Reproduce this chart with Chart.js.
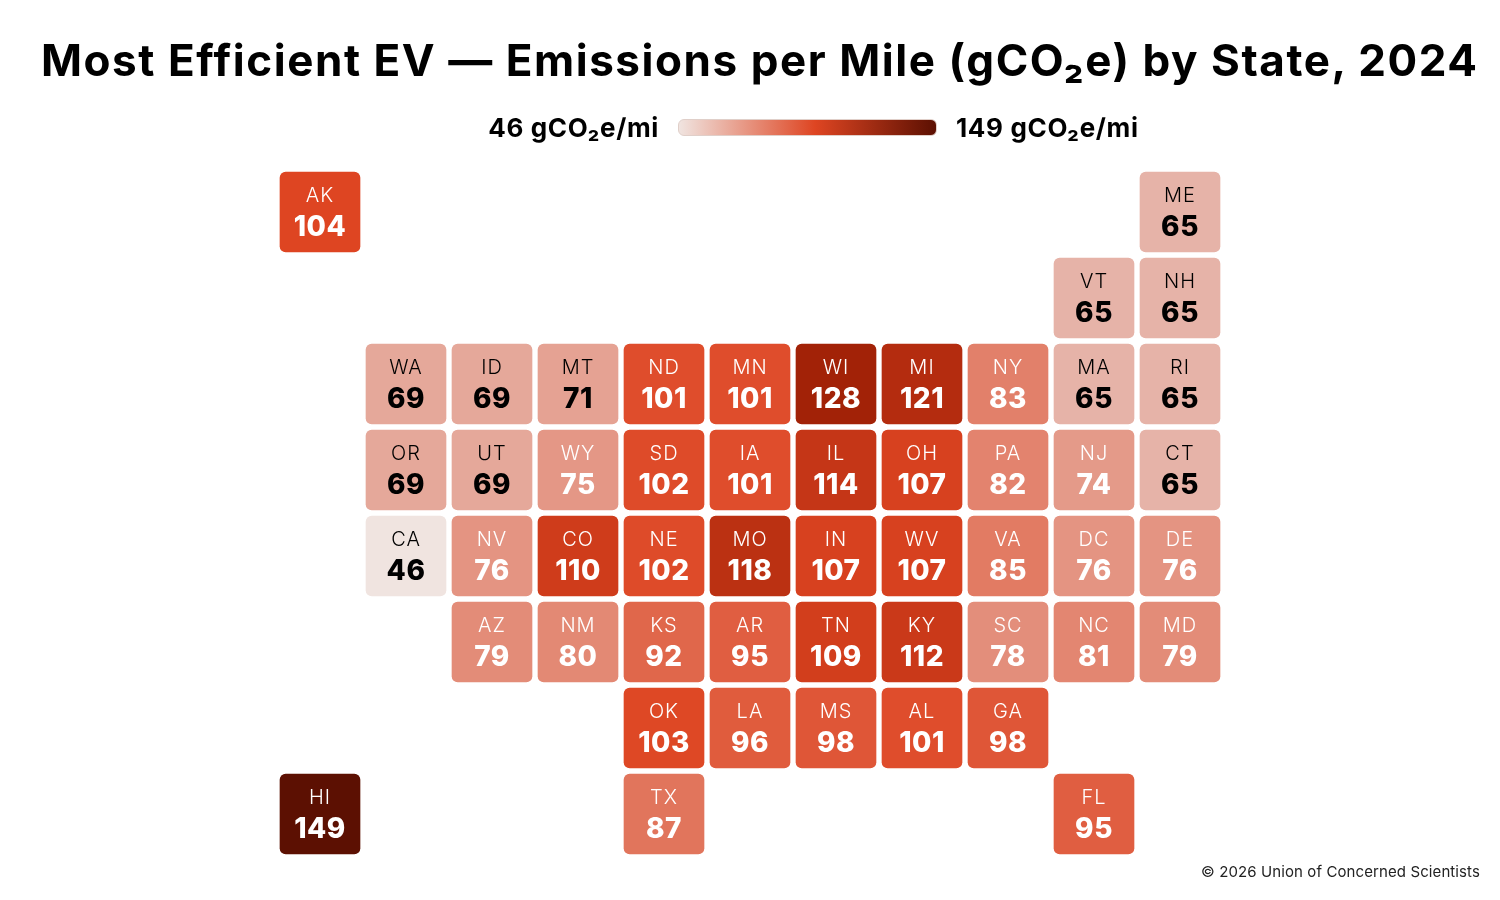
<!DOCTYPE html>
<html lang="en">
<head>
    <meta charset="UTF-8">
    <title>Most Efficient EV by State</title>
    <script src="https://cdn.jsdelivr.net/npm/chart.js"></script>
    <style>
        body { margin: 0; background: #fff; font-family: Inter, sans-serif; color: #000; }
        #wrap { position: relative; width: 1500px; height: 900px; overflow: hidden; }
        #title { position: absolute; left: 41px; top: 33px; font-size: 44px; font-weight: 700; line-height: 54px; letter-spacing: 1.55px; white-space: nowrap; }
        .scale-label { position: absolute; top: 112px; font-size: 26px; font-weight: 700; line-height: 32px; letter-spacing: 0.65px; white-space: nowrap; }
        #lowLabel { right: 841px; }
        #highLabel { left: 956px; }
        #scaleBar { position: absolute; left: 678px; top: 119px; width: 259px; height: 17px; border-radius: 6px; box-sizing: border-box; border: 1px solid #e0cfc9; }
        #credit { position: absolute; right: 20px; top: 863px; font-size: 15px; line-height: 18px; letter-spacing: 0.1px; color: #222; }
        canvas { position: absolute; left: 0; top: 0; }
    </style>
</head>
<body>
<div id="wrap">
    <canvas id="grid" width="1500" height="900"></canvas>
    <div id="title">Most Efficient EV — Emissions per Mile (gCO₂e) by State, 2024</div>
    <div class="scale-label" id="lowLabel">46 gCO₂e/mi</div>
    <div id="scaleBar"></div>
    <div class="scale-label" id="highLabel">149 gCO₂e/mi</div>
    <div id="credit">© 2026 Union of Concerned Scientists</div>
</div>
<script>
    // tile grid data
    const states = ['AK','ME','VT','NH','WA','ID','MT','ND','MN','WI','MI','NY','MA','RI',
        'OR','UT','WY','SD','IA','IL','OH','PA','NJ','CT','CA','NV','CO','NE','MO','IN','WV','VA','DC','DE',
        'AZ','NM','KS','AR','TN','KY','SC','NC','MD','OK','LA','MS','AL','GA','HI','TX','FL'];
    const columns = [0,10,9,10,1,2,3,4,5,6,7,8,9,10,
        1,2,3,4,5,6,7,8,9,10,1,2,3,4,5,6,7,8,9,10,
        2,3,4,5,6,7,8,9,10,4,5,6,7,8,0,4,9];
    const rows = [0,0,1,1,2,2,2,2,2,2,2,2,2,2,
        3,3,3,3,3,3,3,3,3,3,4,4,4,4,4,4,4,4,4,4,
        5,5,5,5,5,5,5,5,5,6,6,6,6,6,7,7,7];
    const emissions = [104,65,65,65,69,69,71,101,101,128,121,83,65,65,
        69,69,75,102,101,114,107,82,74,65,46,76,110,102,118,107,107,85,76,76,
        79,80,92,95,109,112,78,81,79,103,96,98,101,98,149,87,95];

    // colour ramp, value -> rgb
    const rampValues = [46, 65, 104, 128, 149];
    const rampColors = [[240, 228, 224], [230, 179, 168], [222, 69, 34], [162, 34, 7], [92, 16, 2]];

    function tileColor(v) {
        let i = 0;
        while (i < rampValues.length - 2 && v > rampValues[i + 1]) i++;
        const t = (v - rampValues[i]) / (rampValues[i + 1] - rampValues[i]);
        return 'rgb(' + rampColors[i].map((c, k) => Math.round(c + (rampColors[i + 1][k] - c) * t)).join(',') + ')';
    }

    document.getElementById('scaleBar').style.background =
        'linear-gradient(90deg, rgb(' + rampColors[0] + '), rgb(' + rampColors[2] + ') 53%, rgb(' + rampColors[4] + '))';

    // writes state code and value on top of each tile
    const tileText = {
        id: 'tileText',
        afterDatasetsDraw(chart) {
            const ctx = chart.ctx, x = chart.scales.x, y = chart.scales.y;
            ctx.save();
            ctx.textAlign = 'center';
            ctx.textBaseline = 'middle';
            states.forEach((s, i) => {
                const cx = x.getPixelForValue(columns[i]), cy = y.getPixelForValue(rows[i]);
                ctx.fillStyle = emissions[i] < 72 ? '#000' : '#fff';
                ctx.font = '300 20px Inter, sans-serif';
                ctx.letterSpacing = '1px';
                ctx.fillText(s, cx, cy - 16);
                ctx.font = '800 28px Inter, sans-serif';
                ctx.letterSpacing = '0.5px';
                ctx.fillText(emissions[i], cx, cy + 15.5);
            });
            ctx.restore();
        }
    };

    new Chart(document.getElementById('grid'), {
        type: 'bar',
        data: {
            datasets: [{
                data: states.map((s, i) => ({ x: columns[i], y: [rows[i] - 0.465, rows[i] + 0.465] })),
                backgroundColor: emissions.map(tileColor),
                borderRadius: 6,
                borderSkipped: false,
                barThickness: 80
            }]
        },
        options: {
            responsive: false,
            animation: false,
            layout: { padding: { left: 277, right: 277, top: 169, bottom: 43 } },
            plugins: { legend: { display: false }, tooltip: { enabled: false } },
            scales: {
                x: { type: 'linear', min: -0.5, max: 10.5, offset: false, display: false },
                y: { min: -0.5, max: 7.5, reverse: true, display: false }
            }
        },
        plugins: [tileText]
    });
</script>
</body>
</html>
